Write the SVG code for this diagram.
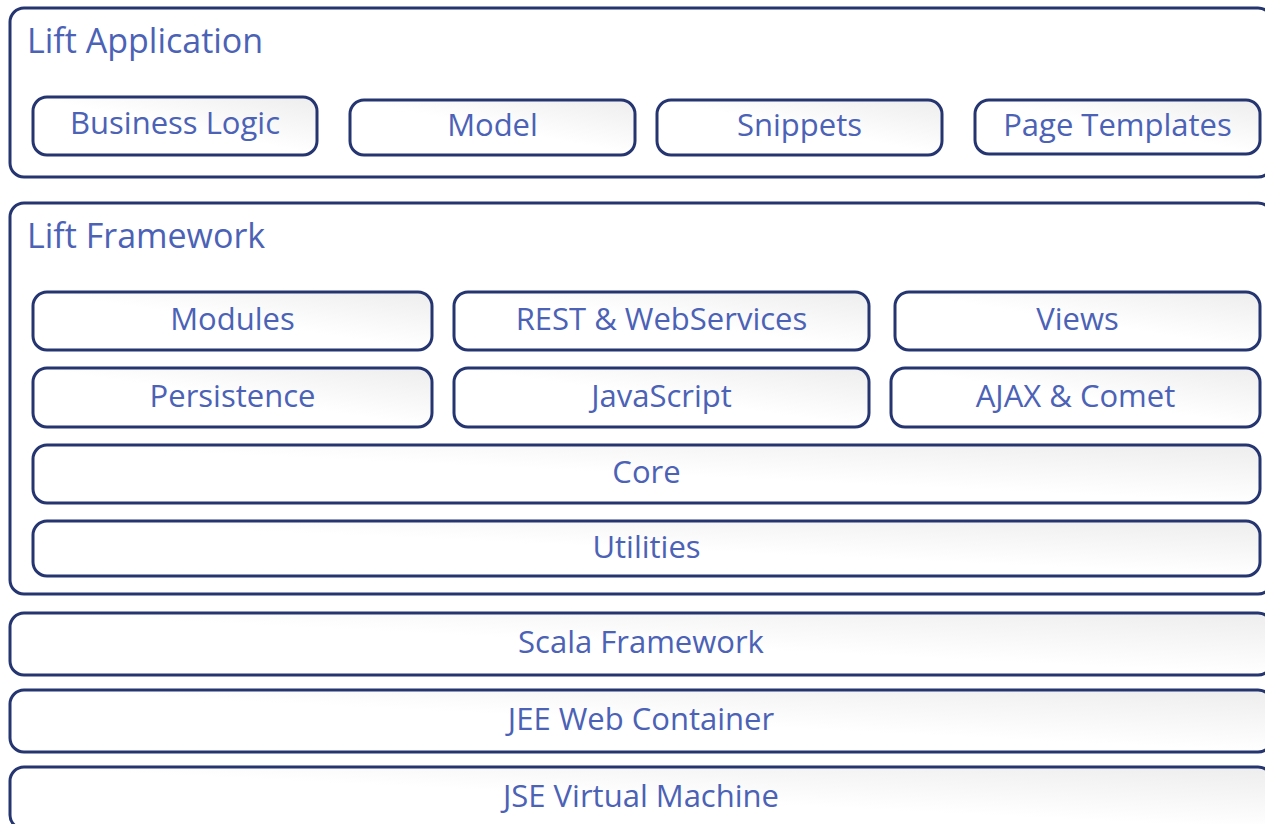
<svg xmlns="http://www.w3.org/2000/svg" width="1265" height="824" viewBox="0 0 1265 824">
<defs>
<linearGradient id="g" x1="0" y1="1" x2="1" y2="0">
<stop offset="0" stop-color="#ffffff"/>
<stop offset="0.5" stop-color="#ffffff"/>
<stop offset="1" stop-color="#ededed"/>
</linearGradient>
<style>
.outer{fill:#ffffff;stroke:#253570;stroke-width:3}
.box{fill:url(#g);stroke:#253570;stroke-width:3}
text{font-family:"Open Sans","DejaVu Sans",sans-serif;font-size:31px;fill:#4b62b6}
.t{font-size:34px}
.c{text-anchor:middle}
</style>
</defs>
<rect width="1265" height="824" fill="#ffffff"/>
<g id="lift-application">
<rect class="outer" x="10" y="8" width="1262" height="169" rx="14"/>
<text class="t" x="27" y="53">Lift Application</text>
</g>
<g id="business-logic"><rect class="box" x="33" y="97" width="284" height="58" rx="14"/><text class="c" x="175" y="134">Business Logic</text></g>
<g id="model"><rect class="box" x="350" y="100" width="285" height="55" rx="14"/><text class="c" x="492.5" y="136">Model</text></g>
<g id="snippets"><rect class="box" x="657" y="100" width="285" height="55" rx="14"/><text class="c" x="799.5" y="136">Snippets</text></g>
<g id="page-templates"><rect class="box" x="975" y="100" width="285" height="54" rx="14"/><text class="c" x="1117.5" y="136">Page Templates</text></g>
<g id="lift-framework">
<rect class="outer" x="10" y="203" width="1262" height="391" rx="14"/>
<text class="t" x="27" y="248">Lift Framework</text>
</g>
<g id="modules"><rect class="box" x="33" y="292" width="399" height="58" rx="14"/><text class="c" x="232.5" y="330">Modules</text></g>
<g id="rest"><rect class="box" x="454" y="292" width="415" height="58" rx="14"/><text class="c" x="661.5" y="330">REST &amp; WebServices</text></g>
<g id="views"><rect class="box" x="895" y="292" width="365" height="58" rx="14"/><text class="c" x="1077.5" y="330">Views</text></g>
<g id="persistence"><rect class="box" x="33" y="368" width="399" height="59" rx="14"/><text class="c" x="232.5" y="407">Persistence</text></g>
<g id="javascript"><rect class="box" x="454" y="368" width="415" height="59" rx="14"/><text class="c" x="661.5" y="407">JavaScript</text></g>
<g id="ajax-comet"><rect class="box" x="891" y="368" width="369" height="59" rx="14"/><text class="c" x="1075.5" y="407">AJAX &amp; Comet</text></g>
<g id="core"><rect class="box" x="33" y="445" width="1227" height="58" rx="14"/><text class="c" x="646.5" y="483">Core</text></g>
<g id="utilities"><rect class="box" x="33" y="521" width="1227" height="55" rx="14"/><text class="c" x="646.5" y="558">Utilities</text></g>
<g id="scala-framework"><rect class="box" x="10" y="613" width="1262" height="62" rx="14"/><text class="c" x="641" y="653">Scala Framework</text></g>
<g id="jee-web-container"><rect class="box" x="10" y="690" width="1262" height="62" rx="14"/><text class="c" x="641" y="730">JEE Web Container</text></g>
<g id="jse-virtual-machine"><rect class="box" x="10" y="767" width="1262" height="62" rx="14"/><text class="c" x="641" y="807">JSE Virtual Machine</text></g>
<g id="connectors"></g>
</svg>
